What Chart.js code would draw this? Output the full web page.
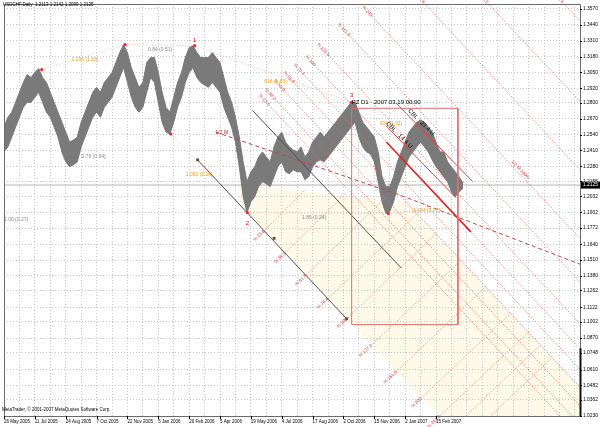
<!DOCTYPE html>
<html><head><meta charset="utf-8">
<script src="https://cdn.jsdelivr.net/npm/chart.js@4.4.1/dist/chart.umd.min.js"></script>
<style>html,body{margin:0;padding:0;background:#fff;overflow:hidden}canvas{display:block}</style>
</head><body>
<canvas id="c" width="600" height="427"></canvas>
<script>
// ---------- DATA ----------
const TITLE = 'USDCHF,Daily  1.2113 1.2142 1.2099 1.2125';
const COPYRIGHT = 'MetaTrader, \u00A9 2001-2007 MetaQuotes Software Corp.';
const lastPrice = 1.2125;

const dateLabels = ['26 May 2005','11 Jul 2005','24 Aug 2005','7 Oct 2005','22 Nov 2005','5 Jan 2006','20 Feb 2006','5 Apr 2006','19 May 2006','4 Jul 2006','17 Aug 2006','2 Oct 2006','15 Nov 2006','2 Jan 2007','15 Feb 2007'];
const dateBars = [0,32,64,96,128,160,192,224,256,288,320,352,384,416,448];
const gridBars = [0,16,32,48,64,80,96,112,128,144,160,176,192,208,224,240,256,272,288,304,320,336,352,368,384,400,416,432,448,464,480,496,512,528,544,560,576,592];

const priceTicks = [1.3570,1.3440,1.3310,1.3180,1.3050,1.2920,1.2800,1.2670,1.2540,1.2410,1.2280,1.2155,1.2032,1.1902,1.1772,1.1640,1.1510,1.1380,1.1262,1.1122,1.1002,1.0870,1.0748,1.0610,1.0482,1.0362,1.0230];

// daily price range, one sample every 4 trading bars
const sampleStep = 4;
const priceHigh = [1.2601,1.2682,1.2723,1.2804,1.2886,1.2967,1.3032,1.3008,1.3049,1.3081,1.3008,1.2967,1.2886,1.2804,1.2723,1.2641,1.2560,1.2478,1.2494,1.2519,
1.2641,1.2723,1.2804,1.2886,1.2927,1.2886,1.2967,1.3008,1.3049,1.3130,1.3212,1.3277,1.3212,1.3089,1.3008,1.2927,1.2967,1.3130,1.3171,1.3171,
1.3049,1.2886,1.2763,1.2723,1.2845,1.2967,1.3049,1.3171,1.3252,1.3269,1.3212,1.3171,1.3171,1.3171,1.3212,1.3171,1.3130,1.3008,1.2886,1.2804,
1.2682,1.2519,1.2316,1.2153,1.2234,1.2275,1.2356,1.2397,1.2356,1.2316,1.2438,1.2519,1.2560,1.2478,1.2438,1.2413,1.2397,1.2438,1.2356,1.2397,
1.2478,1.2519,1.2560,1.2519,1.2560,1.2601,1.2641,1.2682,1.2723,1.2763,1.2804,1.2804,1.2723,1.2641,1.2601,1.2560,1.2519,1.2397,1.2193,1.2112,
1.2112,1.2193,1.2316,1.2397,1.2478,1.2560,1.2601,1.2641,1.2658,1.2641,1.2601,1.2560,1.2478,1.2397,1.2397,1.2316,1.2275,1.2234,1.2193,1.2142];
const priceLow = [1.2397,1.2438,1.2519,1.2601,1.2682,1.2763,1.2804,1.2804,1.2845,1.2886,1.2804,1.2723,1.2682,1.2601,1.2519,1.2397,1.2316,1.2275,1.2291,1.2316,
1.2438,1.2519,1.2601,1.2682,1.2723,1.2682,1.2763,1.2804,1.2845,1.2927,1.3008,1.3089,1.2967,1.2845,1.2763,1.2723,1.2763,1.2886,1.3008,1.2967,
1.2804,1.2641,1.2560,1.2544,1.2641,1.2763,1.2845,1.2967,1.3049,1.3089,1.3008,1.2967,1.2947,1.2927,1.2967,1.2927,1.2886,1.2763,1.2682,1.2601,
1.2478,1.2275,1.2030,1.1900,1.1989,1.2030,1.2112,1.2153,1.2136,1.2112,1.2193,1.2275,1.2316,1.2234,1.2218,1.2250,1.2234,1.2234,1.2169,1.2193,
1.2275,1.2316,1.2332,1.2316,1.2356,1.2397,1.2438,1.2478,1.2519,1.2560,1.2601,1.2641,1.2519,1.2438,1.2397,1.2381,1.2316,1.2153,1.1989,1.1892,
1.1908,1.1989,1.2112,1.2193,1.2275,1.2356,1.2397,1.2438,1.2478,1.2438,1.2397,1.2332,1.2275,1.2234,1.2193,1.2153,1.2071,1.2030,1.2071,1.2099];

// drawing objects in (bar, price)
const channelLines = [[200.8,1.2332,355.3,1.1028],[257.5,1.2739,412.0,1.1444]];
const channelMarkers = [[200.8,1.2332],[280.1,1.1688],[355.3,1.1028]];
const fibLines = [
 [275.0,1.2780,576.7,1.0230],[281.2,1.2829,589.1,1.0230],[290.4,1.2902,597.3,1.0312],[300.7,1.2967,597.3,1.0466],
 [311.0,1.3032,597.3,1.0613],[322.4,1.3106,597.3,1.0784],[336.8,1.3187,597.3,1.0988],[358.4,1.3350,597.3,1.1330],
 [381.1,1.3513,597.3,1.1688],[435.6,1.3619,597.3,1.2250],[501.6,1.3619,597.3,1.2812],[579.8,1.3619,597.3,1.3472]];
const fibLineLabels = ['% 23.6','% 38.2','% 50.0','% 61.8','% 76.4','% 100','% 123.6','% 161.8','% 200','% 261.8','% 323.6','% 423.6'];
const zoneLines = [
 [269.8,1.1749,313.4,1.2096],[291.5,1.1567,354.7,1.2061],[313.1,1.1385,396.0,1.2026],[335.7,1.1193,428.6,1.1891],
 [355.3,1.1028,448.2,1.1726],[381.1,1.0811,474.0,1.1509],[406.8,1.0594,499.7,1.1292],[432.6,1.0376,525.5,1.1074],
 [452.1,1.0230,543.8,1.0919],[478.9,1.0230,556.4,1.0813],[504.6,1.0230,568.6,1.0711]];
const zoneLineLabels = ['% 23.6','% 38.2','% 61.8','% 76.4','% 100','% 127.2','% 161.8','% 200','% 261.8','',''];
const zonePolygon = [[242.0,1.2136],[417.1,1.1989],[597.3,1.0466],[597.3,1.0230],[450.1,1.0230],[247.2,1.1941]];
const cblThick = [[396.5,1.2478,484.1,1.1741]];
const cblLines = [[406.8,1.2796,486.1,1.2153],[396.5,1.2609,468.6,1.2022]];
const halfMLine = [[219.4,1.2560],[412.0,1.2039],[597.3,1.1476]];
const swingLines = [[39.1,1.3073,125.6,1.3277],[125.6,1.3277,197.7,1.3269],[173.0,1.2544,252.3,1.1900],[197.7,1.3269,360.5,1.2804],[252.3,1.1900,398.6,1.1892],[398.6,1.1892,471.7,1.1949]];
const pivots = [[39.1,1.3073],[125.6,1.3277],[173.0,1.2544],[197.7,1.3269],[252.3,1.1900],[360.5,1.2804],[398.6,1.1892]];
const pzBox = [360.5,1.2755,470.7,1.0980];
const notes = [
 {b:70.0, p:1.3155, t:'1.236 (1.53)', c:'#f0a020'},
 {b:149.3,p:1.3236, t:'0.84 (0.51)', c:'#888'},
 {b:80.3, p:1.2356, t:'0.79 (0.94)', c:'#888'},
 {b:188.5,p:1.2210, t:'1.082 (2.16)', c:'#f0a020'},
 {b:0,    p:1.1843, t:'1.00 (0.27)', c:'#888'},
 {b:309.0,p:1.1859, t:'1.85 (0.24)', c:'#888'},
 {b:269.8,p:1.2975, t:'618 (1.83)', c:'#f0a020'},
 {b:389.3,p:1.2633, t:'394 (1.92)', c:'#f0a020'},
 {b:424.3,p:1.1916, t:'1.644 (2.07)', c:'#f0a020'},
 {b:360.5,p:1.2804, t:'PZ D1 \u00B7 2007.03.19 00:00', c:'#000', s:6},
 {b:219.4,p:1.2552, t:'1/2 M', c:'#b02020', s:5},
 {b:197.7,p:1.3309, t:'1', c:'#e00000', s:6, a:'center'},
 {b:252.3,p:1.1810, t:'2', c:'#e00000', s:6, a:'center'},
 {b:360.5,p:1.2861, t:'3', c:'#e00000', s:6, a:'center'},
 {b:432.6,p:1.2641, t:'CBL \u00B7 23.4 U', c:'#000', s:6, r:45, a:'center'},
 {b:409.9,p:1.2535, t:'CBL \u00B7 14.4 U', c:'#000', s:6, r:45, a:'center'},
 {b:535.5,p:1.2250, t:'1/2 M 300%', c:'#d03030', s:4.5, r:47, a:'center'}
];

// ---------- CHART ----------
Chart.defaults.font.family = '"Liberation Sans", Arial, sans-serif';
const seg = (list, color, width, dash, order) => list.map(s => ({
  type:'line', data:[{x:s[0],y:s[1]},{x:s[2],y:s[3]}], borderColor:color, borderWidth:width,
  borderDash:dash, pointRadius:0, fill:false, tension:0, order }));

const datasets = [
  {type:'line', data: priceHigh.map((h,i)=>({x:i*sampleStep, y:h})), borderColor:'#777', borderWidth:1,
   pointRadius:0, tension:0, fill:false, order:81},
  {type:'line', data: priceLow.map((l,i)=>({x:i*sampleStep, y:l})), borderColor:'#777', borderWidth:1,
   pointRadius:0, tension:0, fill:'-1', backgroundColor:'#7a7a7a', order:80},
  {type:'line', data:[{x:0,y:lastPrice},{x:597.3,y:lastPrice}], borderColor:'#b4b4b4', borderWidth:1, pointRadius:0, order:90},
  ...seg(swingLines, '#f2b8a8', 1, [1,2], 70),
  ...seg(zoneLines, '#e48888', 1, [1,1.5], 60),
  ...seg(fibLines, '#e06a6a', 1, [1,1.5], 50),
  ...seg(channelLines, '#505050', 1, [], 40),
  {type:'line', data: halfMLine.map(p=>({x:p[0],y:p[1]})), borderColor:'#c84040', borderWidth:1, borderDash:[4,3], pointRadius:0, tension:0, order:35},
  ...seg(cblThick, '#e02020', 1.6, [], 30),
  ...seg(cblLines, '#e04040', 1, [], 30),
  {type:'line', data:[{x:pzBox[0],y:pzBox[1]},{x:pzBox[2],y:pzBox[1]},{x:pzBox[2],y:pzBox[3]},{x:pzBox[0],y:pzBox[3]},{x:pzBox[0],y:pzBox[1]}],
   borderColor:'#e07070', borderWidth:1, pointRadius:0, tension:0, order:20},
  {type:'line', showLine:false, data: channelMarkers.map(p=>({x:p[0],y:p[1]})), pointStyle:'rect', pointRadius:2,
   pointBackgroundColor:'#505050', pointBorderWidth:0, order:12},
  {type:'line', showLine:false, data: pivots.map(p=>({x:p[0],y:p[1]})), pointRadius:1.6,
   pointBackgroundColor:'#ff2020', pointBorderWidth:0, order:10}
];

const overlay = {
  id:'overlay',
  beforeDraw(chart){
    const {ctx, chartArea:a} = chart, xs = chart.scales.x, ys = chart.scales.y;
    ctx.save();
    ctx.beginPath(); ctx.rect(a.left, a.top, a.right-a.left, a.bottom-a.top); ctx.clip();
    ctx.beginPath();
    zonePolygon.forEach((pt,i)=>{const X=xs.getPixelForValue(pt[0]), Y=ys.getPixelForValue(pt[1]); i?ctx.lineTo(X,Y):ctx.moveTo(X,Y);});
    ctx.closePath(); ctx.fillStyle='#fefaea'; ctx.fill();
    ctx.restore();
  },
  afterDatasetsDraw(chart){
    const {ctx} = chart, xs = chart.scales.x, ys = chart.scales.y;
    const put = (b,p,t,c,s,r,al) => {
      ctx.save();
      ctx.translate(xs.getPixelForValue(b), ys.getPixelForValue(p));
      if (r) ctx.rotate(r*Math.PI/180);
      ctx.font = s + 'px "Liberation Sans", Arial, sans-serif';
      ctx.fillStyle = c; ctx.textAlign = al || 'left'; ctx.textBaseline = 'middle';
      ctx.fillText(t, 0, 0); ctx.restore();
    };
    fibLines.forEach((l,i)=>{ if (fibLineLabels[i]) put(l[0], l[1], fibLineLabels[i], '#d03030', 4.5, 47, 'right'); });
    zoneLines.forEach((l,i)=>{ if (zoneLineLabels[i]) put(l[0], l[1], zoneLineLabels[i], '#d03030', 4.5, -43, 'right'); });
    notes.forEach(n => put(n.b, n.p, n.t, n.c, n.s||5, n.r||0, n.a));
  },
  afterDraw(chart){
    const {ctx, chartArea:a} = chart, xs = chart.scales.x, ys = chart.scales.y;
    ctx.save();
    ctx.strokeStyle = '#6a6a6a'; ctx.lineWidth = 1;
    ctx.beginPath();
    ctx.moveTo(a.left+0.5, a.bottom); ctx.lineTo(a.left+0.5, a.top+0.5); ctx.lineTo(a.right+0.5, a.top+0.5);
    ctx.lineTo(a.right+0.5, a.bottom+0.5); ctx.lineTo(a.left, a.bottom+0.5); ctx.stroke();
    ctx.strokeStyle = '#000';
    dateBars.forEach(b => { const X = Math.round(xs.getPixelForValue(b))+0.5; ctx.beginPath(); ctx.moveTo(X, a.bottom); ctx.lineTo(X, a.bottom+3); ctx.stroke(); });
    priceTicks.forEach(v => { const Y = Math.round(ys.getPixelForValue(v))+0.5; ctx.beginPath(); ctx.moveTo(a.right, Y); ctx.lineTo(a.right+2, Y); ctx.stroke(); });
    ctx.lineWidth = 2; ctx.strokeStyle = '#111';
    ctx.beginPath(); ctx.moveTo(a.right+0.5, ys.getPixelForValue(1.0786)); ctx.lineTo(a.right+0.5, a.bottom); ctx.stroke();
    const y = ys.getPixelForValue(lastPrice);
    ctx.fillStyle = '#000'; ctx.fillRect(a.right+1, y-3.5, 600-a.right-1, 7);
    ctx.fillStyle = '#fff'; ctx.font = '4.9px "Liberation Sans", Arial, sans-serif'; ctx.textBaseline='middle'; ctx.textAlign='left';
    ctx.fillText(lastPrice.toFixed(4), a.right+3, y);
    ctx.fillStyle = '#000'; ctx.font = '4.5px "Liberation Sans", Arial, sans-serif'; ctx.textBaseline='middle';
    ctx.fillText(TITLE, 3, 5);
    ctx.fillText(COPYRIGHT, 2, 410);
    ctx.restore();
  }
};

new Chart(document.getElementById('c'), {
  type:'line',
  data:{datasets},
  options:{
    responsive:false, animation:false, events:[],
    layout:{padding:{left:0, top:1, right:0, bottom:0}},
    plugins:{legend:{display:false}, tooltip:{enabled:false}},
    scales:{
      x:{type:'linear', min:0, max:597.3, offset:false,
         afterBuildTicks: s => { s.ticks = gridBars.map(v=>({value:v})); },
         afterFit: s => { s.height = 11; s.paddingLeft = 0; s.paddingRight = 0; },
         ticks:{autoSkip:false, maxRotation:0, minRotation:0, align:'start', padding:3, color:'#000', font:{size:4.5},
                callback: v => { const i = dateBars.indexOf(v); return i >= 0 ? dateLabels[i] : ''; }},
         grid:{color:'#c4c4c4', lineWidth:1, drawTicks:false, offset:false},
         border:{display:false, dash:[1,2]}},
      y:{type:'linear', position:'right', min:1.0230, max:1.3611, beginAtZero:false,
         afterBuildTicks: s => { s.ticks = priceTicks.map(v=>({value:v})); },
         afterFit: s => { s.width = 20; s.paddingTop = 0; s.paddingBottom = 0; },
         ticks:{autoSkip:false, padding:3, color:'#000', font:{size:4.9}, callback: v => Number(v).toFixed(4)},
         grid:{color:'#c4c4c4', lineWidth:1, drawTicks:false},
         border:{display:false, dash:[1,2]}}
    }
  },
  plugins:[overlay]
});
</script>
</body></html>
